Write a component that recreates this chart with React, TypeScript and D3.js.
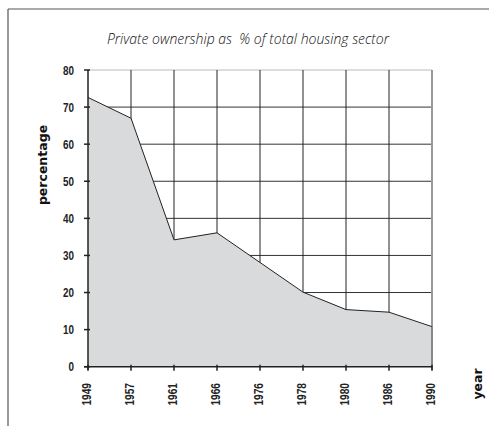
import React from "react";
import * as d3 from "d3";

const years = ["1949", "1957", "1961", "1966", "1976", "1978", "1980", "1986", "1990"];
const privateShare = [72.6, 67, 34.2, 36.1, 28.1, 20.1, 15.4, 14.7, 10.8];
const yTicks = [0, 10, 20, 30, 40, 50, 60, 70, 80];

const W = 489;
const H = 426;
const left = 88;
const right = 432;
const top = 70;
const bottom = 366.7;

const narrow = "'Liberation Sans', Arial, sans-serif";

export default function App() {
  const x = d3.scalePoint<string>().domain(years).range([left, right]);
  const y = d3.scaleLinear().domain([0, 80]).range([bottom, top]);

  const pts = years.map((yr, i) => ({ yr, v: privateShare[i] }));
  const area = d3
    .area<{ yr: string; v: number }>()
    .x((d) => x(d.yr)!)
    .y0(y(0))
    .y1((d) => y(d.v));
  const line = d3
    .line<{ yr: string; v: number }>()
    .x((d) => x(d.yr)!)
    .y((d) => y(d.v));

  return (
    <svg
      width={W}
      height={H}
      style={{ position: "absolute", left: 0, top: 0, display: "block", background: "#fff" }}
    >
      {/* frame */}
      <line x1={8} y1={9} x2={W} y2={9} stroke="#555" strokeWidth={1.2} />
      <line x1={8} y1={9} x2={8} y2={H} stroke="#555" strokeWidth={1.2} />

      {/* title */}
      <text
        x={248}
        y={44}
        textAnchor="middle"
        fontFamily="'Open Sans', sans-serif"
        fontStyle="italic"
        fontWeight={300}
        fontSize={14}
        fill="#111"
        style={{ whiteSpace: "pre" }}
      >
        {"Private ownership as  % of total housing sector"}
      </text>

      {/* horizontal grid */}
      {yTicks.filter((t) => t > 0).map((t) => (
        <line
          key={"h" + t}
          x1={left}
          x2={right}
          y1={y(t)}
          y2={y(t)}
          stroke={t === 80 ? "#bbb" : "#333"}
          strokeWidth={1}
        />
      ))}
      {/* vertical grid */}
      {years.slice(1).map((yr, i) => (
        <line
          key={"v" + yr}
          x1={x(yr)}
          x2={x(yr)}
          y1={y(80)}
          y2={y(0)}
          stroke={i === years.length - 2 ? "#999" : "#222"}
          strokeWidth={i === years.length - 2 ? 2 : 1}
        />
      ))}

      {/* area */}
      <path d={area(pts) || ""} fill="#d9dadc" />
      <path d={line(pts) || ""} fill="none" stroke="#222" strokeWidth={1} />
      <line x1={right} x2={right} y1={y(privateShare[8])} y2={y(0) + 3} stroke="#888" strokeWidth={2} />

      {/* y axis */}
      <line x1={left} x2={left} y1={y(80)} y2={y(0) + 3} stroke="#222" strokeWidth={1.5} />
      {yTicks.map((t) => (
        <g key={"yt" + t}>
          <line x1={left - 4} x2={left + 2} y1={y(t)} y2={y(t)} stroke="#222" strokeWidth={1.5} />
          <text
            transform={`translate(74,${y(t)}) scale(0.76,1)`}
            dy="0.36em"
            textAnchor="end"
            fontFamily={narrow}
            fontWeight="bold"
            fontSize={13}
            fill="#222"
          >
            {t}
          </text>
        </g>
      ))}

      {/* x axis */}
      <line x1={left - 4} x2={right} y1={y(0)} y2={y(0)} stroke="#222" strokeWidth={1.5} />
      {years.map((yr) => (
        <g key={"xt" + yr}>
          <line x1={x(yr)} x2={x(yr)} y1={y(0) - 2} y2={y(0) + 4} stroke="#222" strokeWidth={1.5} />
          <text
            transform={`translate(${x(yr)! + 2.5},383) rotate(-90) scale(0.78,1)`}
            textAnchor="end"
            fontFamily={narrow}
            fontWeight="bold"
            fontSize={13}
            fill="#222"
          >
            {yr}
          </text>
        </g>
      ))}

      {/* axis titles */}
      <text
        transform="translate(47,165) rotate(-90)"
        textAnchor="middle"
        fontFamily="'DejaVu Sans', sans-serif"
        fontWeight="bold"
        fontSize={12.5}
        fill="#111"
      >
        percentage
      </text>
      <text
        transform="translate(482,384) rotate(-90)"
        textAnchor="middle"
        fontFamily="'DejaVu Sans', sans-serif"
        fontWeight="bold"
        fontSize={12.5}
        fill="#111"
      >
        year
      </text>
    </svg>
  );
}
